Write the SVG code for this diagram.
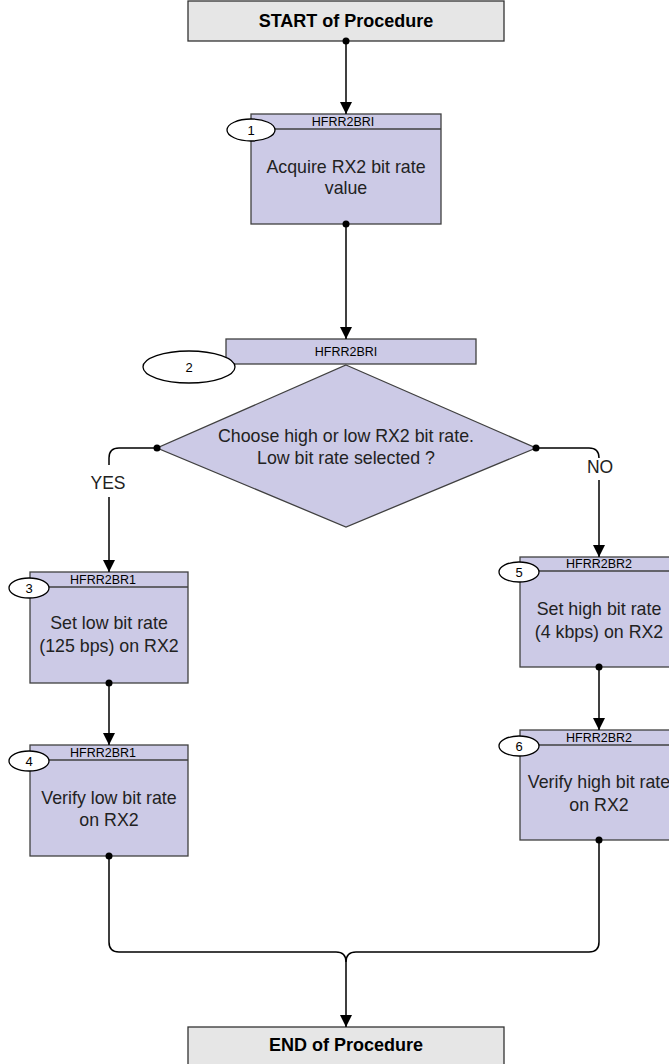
<svg xmlns="http://www.w3.org/2000/svg" width="669" height="1064" viewBox="0 0 669 1064">
<defs>
<style>
.term{fill:#e6e6e6;stroke:#333;stroke-width:1.3}
.box{fill:#cccae6;stroke:#404040;stroke-width:1.3}
.hdr{stroke:#404040;stroke-width:1.3}
.ell{fill:#fff;stroke:#000;stroke-width:1.3}
.tt{font-family:"Liberation Sans",Arial,sans-serif;font-weight:bold;font-size:18px;fill:#000;text-anchor:middle}
.bt{font-family:"Liberation Sans",Arial,sans-serif;font-size:17.8px;fill:#222;text-anchor:middle}
.ht{font-family:"Liberation Sans",Arial,sans-serif;font-size:12.5px;fill:#000;text-anchor:middle}
.nt{font-family:"Liberation Sans",Arial,sans-serif;font-size:13px;fill:#000;text-anchor:middle}
.lbl{font-family:"Liberation Sans",Arial,sans-serif;font-size:17.5px;fill:#222;text-anchor:middle}
.c{fill:none;stroke:#000;stroke-width:1.5}
.dot{fill:#000}
</style>
<marker id="arr" markerUnits="userSpaceOnUse" markerWidth="12" markerHeight="12" viewBox="0 0 12 12" refX="12" refY="6" orient="auto">
<path d="M0,0 L12,6 L0,12 Z" fill="#000"/>
</marker>
</defs>
<rect width="669" height="1064" fill="#fff"/>

<g id="start">
<rect class="term" x="188" y="1" width="316" height="40"/>
<text class="tt" x="346" y="27">START of Procedure</text>
</g>

<g id="node1">
<rect class="box" x="251" y="114" width="190" height="110"/>
<line class="hdr" x1="251" y1="129" x2="441" y2="129"/>
<text class="ht" x="343" y="126">HFRR2BRI</text>
<ellipse class="ell" cx="251" cy="130" rx="24" ry="11"/>
<text class="nt" x="251" y="135">1</text>
<text class="bt" x="346" y="173">Acquire RX2 bit rate</text>
<text class="bt" x="346" y="194">value</text>
</g>

<g id="node2">
<rect class="box" x="226" y="339" width="250" height="25"/>
<text class="ht" x="346" y="356">HFRR2BRI</text>
<polygon class="box" points="346,365 536,448 346,527 157,448"/>
<ellipse class="ell" cx="189" cy="367" rx="46" ry="16"/>
<text class="nt" x="189" y="372">2</text>
<text class="bt" x="346" y="442">Choose high or low RX2 bit rate.</text>
<text class="bt" x="346" y="464">Low bit rate selected ?</text>
</g>

<g id="node3">
<rect class="box" x="30" y="572" width="158" height="111"/>
<line class="hdr" x1="30" y1="587" x2="188" y2="587"/>
<text class="ht" x="103" y="584">HFRR2BR1</text>
<ellipse class="ell" cx="29" cy="588" rx="20" ry="10"/>
<text class="nt" x="29" y="593">3</text>
<text class="bt" x="109" y="629">Set low bit rate</text>
<text class="bt" x="109" y="652">(125 bps) on RX2</text>
</g>

<g id="node4">
<rect class="box" x="30" y="745" width="158" height="111"/>
<line class="hdr" x1="30" y1="760" x2="188" y2="760"/>
<text class="ht" x="103" y="757">HFRR2BR1</text>
<ellipse class="ell" cx="29" cy="761" rx="20" ry="10"/>
<text class="nt" x="29" y="766">4</text>
<text class="bt" x="109" y="804">Verify low bit rate</text>
<text class="bt" x="109" y="826">on RX2</text>
</g>

<g id="node5">
<rect class="box" x="520" y="557" width="158" height="110"/>
<line class="hdr" x1="520" y1="571" x2="678" y2="571"/>
<text class="ht" x="599" y="568">HFRR2BR2</text>
<ellipse class="ell" cx="519" cy="572" rx="20" ry="10"/>
<text class="nt" x="519" y="577">5</text>
<text class="bt" x="599" y="615">Set high bit rate</text>
<text class="bt" x="599" y="638">(4 kbps) on RX2</text>
</g>

<g id="node6">
<rect class="box" x="520" y="730" width="158" height="110"/>
<line class="hdr" x1="520" y1="745" x2="678" y2="745"/>
<text class="ht" x="599" y="742">HFRR2BR2</text>
<ellipse class="ell" cx="519" cy="746" rx="20" ry="10"/>
<text class="nt" x="519" y="751">6</text>
<text class="bt" x="599" y="788">Verify high bit rate</text>
<text class="bt" x="599" y="811">on RX2</text>
</g>

<g id="end">
<rect class="term" x="188" y="1027" width="316" height="45"/>
<text class="tt" x="346" y="1051">END of Procedure</text>
</g>

<g id="connectors">
<path class="c" d="M346,41 V114" marker-end="url(#arr)"/>
<path class="c" d="M346,224 V339" marker-end="url(#arr)"/>
<path class="c" d="M157,448 H119 Q109,448 109,458 V465"/>
<path class="c" d="M109,497 V572" marker-end="url(#arr)"/>
<path class="c" d="M536,448 H589 Q599,448 599,458"/>
<path class="c" d="M599,480 V557" marker-end="url(#arr)"/>
<path class="c" d="M109,683 V745" marker-end="url(#arr)"/>
<path class="c" d="M599,667 V730" marker-end="url(#arr)"/>
<path class="c" d="M109,856 V942 Q109,952 119,952 H336 Q346,952 346,962 V1027" marker-end="url(#arr)"/>
<path class="c" d="M599,840 V942 Q599,952 589,952 H356 Q346,952 346,962"/>
<circle class="dot" cx="346" cy="41" r="3.5"/>
<circle class="dot" cx="346" cy="224" r="3.5"/>
<circle class="dot" cx="157" cy="448" r="3.5"/>
<circle class="dot" cx="536" cy="448" r="3.5"/>
<circle class="dot" cx="109" cy="683" r="3.5"/>
<circle class="dot" cx="599" cy="667" r="3.5"/>
<circle class="dot" cx="109" cy="856" r="3.5"/>
<circle class="dot" cx="599" cy="840" r="3.5"/>
<text class="lbl" x="108" y="489">YES</text>
<text class="lbl" x="600" y="473">NO</text>
</g>
</svg>
